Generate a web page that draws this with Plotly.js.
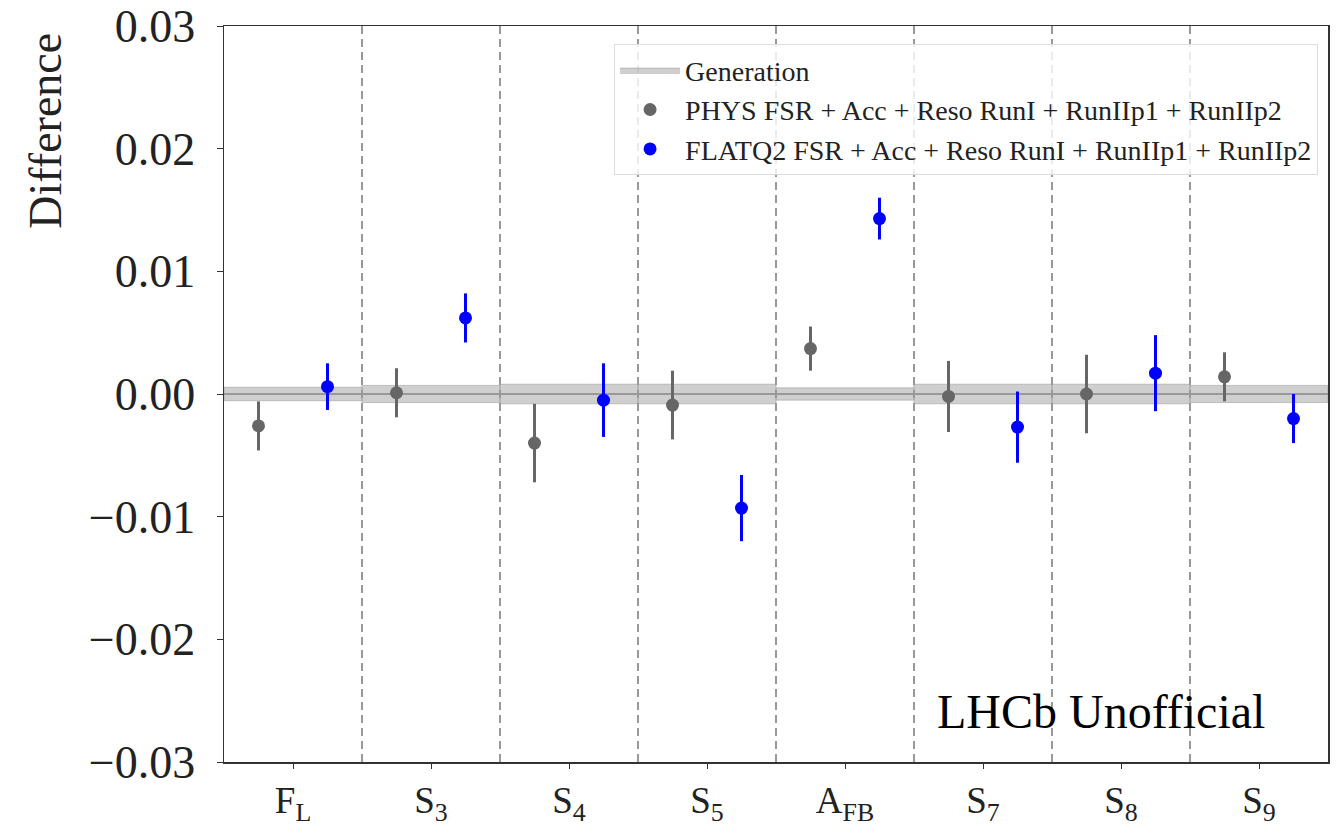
<!DOCTYPE html>
<html>
<head>
<meta charset="utf-8">
<script src="https://cdn.plot.ly/plotly-3.0.1.min.js"></script>
<style>html,body{margin:0;padding:0;background:#fff;}#chart{width:1340px;height:828px;}</style>
</head>
<body>
<div id="chart"></div>
<script>
// Observables (tick labels)
const categories = ["F<sub>L</sub>", "S<sub>3</sub>", "S<sub>4</sub>", "S<sub>5</sub>", "A<sub>FB</sub>", "S<sub>7</sub>", "S<sub>8</sub>", "S<sub>9</sub>"];

// Generation band half-widths (central value 0)
const genCentral = [0, 0, 0, 0, 0, 0, 0, 0];
const genErr = [0.00055, 0.0007, 0.0008, 0.0008, 0.0005, 0.0008, 0.0008, 0.0007];

// PHYS FSR + Acc + Reso RunI + RunIIp1 + RunIIp2
const physVal = [-0.0026, 0.0001, -0.0040, -0.0009, 0.0037, -0.0002, 0.0000, 0.0014];
const physErr = [0.0020, 0.0020, 0.0032, 0.0028, 0.0018, 0.0029, 0.0032, 0.0020];

// FLATQ2 FSR + Acc + Reso RunI + RunIIp1 + RunIIp2
const flatVal = [0.0006, 0.0062, -0.0005, -0.0093, 0.0143, -0.0027, 0.0017, -0.0020];
const flatErr = [0.0019, 0.0020, 0.0030, 0.0027, 0.0017, 0.0029, 0.0031, 0.0020];

const legendNames = [
  "Generation",
  "PHYS FSR + Acc + Reso RunI + RunIIp1 + RunIIp2",
  "FLATQ2 FSR + Acc + Reso RunI + RunIIp1 + RunIIp2"
];

const serif = "'Liberation Serif', 'DejaVu Serif', serif";
const idx = categories.map((_, i) => i);
const traces = [];

// Generation bands (one filled box per category)
idx.forEach(i => {
  traces.push({
    type: "scatter", mode: "lines",
    x: [i - 0.5, i + 0.5, i + 0.5, i - 0.5, i - 0.5],
    y: [genCentral[i] - genErr[i], genCentral[i] - genErr[i], genCentral[i] + genErr[i], genCentral[i] + genErr[i], genCentral[i] - genErr[i]],
    fill: "toself", fillcolor: "rgba(160,160,160,0.5)",
    line: {color: "rgba(150,150,150,0.5)", width: 1},
    name: legendNames[0], legendgroup: "gen", showlegend: i === 0,
    hoverinfo: "skip"
  });
  traces.push({
    type: "scatter", mode: "lines",
    x: [i - 0.5, i + 0.5], y: [genCentral[i], genCentral[i]],
    line: {color: "#999999", width: 2},
    legendgroup: "gen", showlegend: false, hoverinfo: "skip"
  });
});

traces.push({
  type: "scatter", mode: "markers",
  x: idx.map(i => i - 0.25), y: physVal,
  error_y: {type: "data", array: physErr, visible: true, color: "#666666", thickness: 3, width: 0},
  marker: {color: "#666666", size: 13},
  name: legendNames[1]
});
traces.push({
  type: "scatter", mode: "markers",
  x: idx.map(i => i + 0.25), y: flatVal,
  error_y: {type: "data", array: flatErr, visible: true, color: "#0000ff", thickness: 3, width: 0},
  marker: {color: "#0000ff", size: 13},
  name: legendNames[2]
});

// Dashed dividers between categories
const shapes = idx.slice(0, -1).map(i => ({
  type: "line", xref: "x", yref: "paper",
  x0: i + 0.5, x1: i + 0.5, y0: 0, y1: 1,
  line: {color: "#999999", width: 2, dash: "8px,5px"},
  layer: "below"
}));

const layout = {
  width: 1340, height: 828,
  margin: {l: 224, r: 12, t: 26, b: 66},
  paper_bgcolor: "#ffffff", plot_bgcolor: "#ffffff",
  font: {family: serif, color: "#222222"},
  showlegend: true,
  legend: {
    x: 0.991, y: 0.975, xanchor: "right", yanchor: "top",
    bgcolor: "rgba(255,255,255,0.8)", bordercolor: "#dddddd", borderwidth: 1,
    font: {family: serif, size: 28, color: "#222222"},
    tracegroupgap: 0, itemwidth: 60
  },
  xaxis: {
    range: [-0.5, categories.length - 0.5],
    tickmode: "array", tickvals: idx, ticktext: categories,
    ticks: "outside", ticklen: 5, tickcolor: "#333333",
    ticklabelstandoff: 0,
    tickfont: {family: serif, size: 37, color: "#222222"},
    showgrid: false, zeroline: false,
    showline: true, mirror: true, linecolor: "#333333", linewidth: 1.5
  },
  yaxis: {
    range: [-0.03, 0.03],
    tickmode: "array", tickvals: [-0.03, -0.02, -0.01, 0, 0.01, 0.02, 0.03],
    tickformat: ".2f",
    ticks: "outside", ticklen: 6, tickcolor: "#333333",
    ticklabelstandoff: 12,
    tickfont: {family: serif, size: 46, color: "#222222"},
    showgrid: false, zeroline: false,
    showline: true, mirror: true, linecolor: "#333333", linewidth: 1.5
  },
  shapes: shapes,
  annotations: [
    {
      text: "Difference", xref: "paper", yref: "paper",
      x: -0.162, y: 0.858, xanchor: "center", yanchor: "middle",
      textangle: -90, showarrow: false,
      font: {family: serif, size: 46, color: "#222222"}
    },
    {
      text: "LHCb Unofficial", xref: "paper", yref: "paper",
      x: 0.644, y: 0.068, xanchor: "left", yanchor: "middle",
      showarrow: false,
      font: {family: serif, size: 48, color: "#000000"}
    }
  ]
};

Plotly.newPlot("chart", traces, layout, {displayModeBar: false, staticPlot: true});
</script>
</body>
</html>
